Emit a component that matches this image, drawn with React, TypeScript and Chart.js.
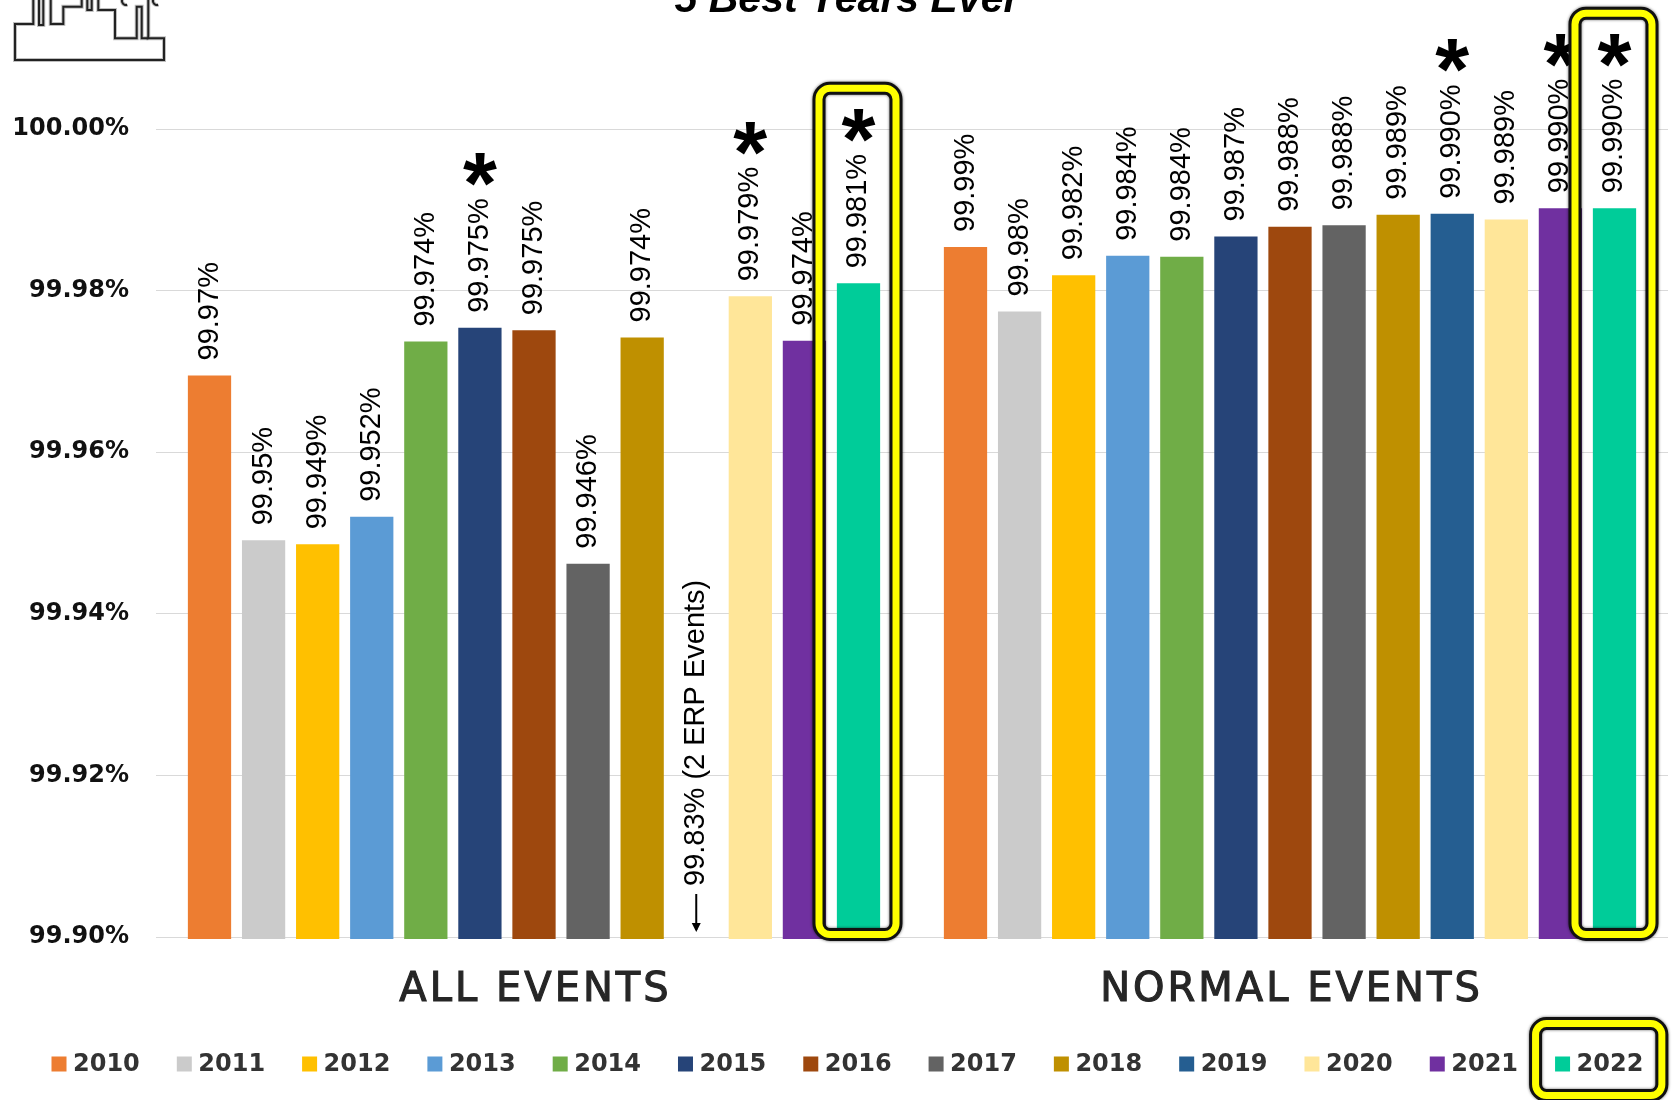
import React, { useEffect, useRef } from 'react';
import { Chart, registerables } from 'chart.js';

Chart.register(...registerables);

const chartTitle = '5 Best Years Ever';
const categories = ['ALL EVENTS', 'NORMAL EVENTS'];
const years = ['2010', '2011', '2012', '2013', '2014', '2015', '2016', '2017', '2018', '2019', '2020', '2021', '2022'];
const allEventsValues = [99.9695, 99.9491, 99.9486, 99.952, 99.9737, 99.9754, 99.9751, 99.9462, 99.9742, 99.83, 99.9793, 99.9738, 99.9809];
const normalEventsValues = [99.9854, 99.9774, 99.9819, 99.9843, 99.9842, 99.9867, 99.9879, 99.9881, 99.9894, 99.9895, 99.9888, 99.9902, 99.9902];
const allEventsLabels = ['99.97%', '99.95%', '99.949%', '99.952%', '99.974%', '99.975%', '99.975%', '99.946%', '99.974%', '99.83% (2 ERP Events)', '99.979%', '99.974%', '99.981%'];
const normalEventsLabels = ['99.99%', '99.98%', '99.982%', '99.984%', '99.984%', '99.987%', '99.988%', '99.988%', '99.989%', '99.990%', '99.989%', '99.990%', '99.990%'];
const yearColors = ['#ED7D31', '#CBCBCB', '#FFC000', '#5B9BD5', '#70AD47', '#264478', '#9E480E', '#636363', '#BF9000', '#255E91', '#FFE699', '#7030A0', '#00CC99'];
const starredAllEvents = ['2015', '2020', '2022'];
const starredNormalEvents = ['2019', '2021', '2022'];
const highlightedYear = '2022';
const yMin = 99.9;
const yMax = 100;
const yStep = 0.02;

const LABEL_FONT = '29px "Liberation Sans", Arial, sans-serif';
const STAR_FAMILY = '"Liberation Sans", Arial, sans-serif';

function drawHighlight(ctx: CanvasRenderingContext2D, left: number, top: number, right: number, bottom: number) {
  const inset = 6.5;
  ctx.save();
  ctx.beginPath();
  ctx.roundRect(left + inset, top + inset, right - left - 2 * inset, bottom - top - 2 * inset, 11);
  ctx.shadowColor = 'rgba(0,0,0,0.6)';
  ctx.shadowBlur = 3;
  ctx.strokeStyle = '#111';
  ctx.lineWidth = 13;
  ctx.stroke();
  ctx.shadowBlur = 0;
  ctx.strokeStyle = '#FFFF00';
  ctx.lineWidth = 7;
  ctx.stroke();
  ctx.restore();
}

function drawLogo(ctx: CanvasRenderingContext2D) {
  const paths: number[][][] = [
    [[148.3, -2], [148.3, 38.3], [164, 38.3], [164, 60], [15, 60], [15, 24], [33.3, 24], [33.3, -2]],
    [[50.7, -2], [50.7, 24], [63.3, 24], [63.3, 6.7], [81.7, 6.7], [81.7, -2]],
    [[98.3, -2], [98.3, 10], [115, 10], [115, 38.3], [136.7, 38.3], [136.7, 6.7], [141.7, 6.7], [141.7, 38.3], [148.3, 38.3]],
    [[39, -2], [39, 25], [43.3, 25], [43.3, -2]],
    [[87.3, -2], [87.3, 10], [91.7, 10], [91.7, -2]],
  ];
  ctx.save();
  ctx.lineJoin = 'miter';
  for (const pass of [{ c: 'rgba(0,0,0,0.25)', w: 4 }, { c: '#222', w: 2 }]) {
    ctx.strokeStyle = pass.c;
    ctx.lineWidth = pass.w;
    for (const p of paths) {
      ctx.beginPath();
      p.forEach(([x, y], i) => (i === 0 ? ctx.moveTo(x, y) : ctx.lineTo(x, y)));
      ctx.stroke();
    }
    ctx.beginPath();
    ctx.arc(126, 1, 4, Math.PI * 0.4, Math.PI * 1.3);
    ctx.stroke();
    ctx.beginPath();
    ctx.arc(157, 1, 4, Math.PI * 0.4, Math.PI * 1.3);
    ctx.stroke();
  }
  ctx.restore();
}

const overlayPlugin = {
  id: 'overlay',
  afterDraw(chart: any) {
    const ctx: CanvasRenderingContext2D = chart.ctx;
    const area = chart.chartArea;
    const yScale = chart.scales.y;
    const xScale = chart.scales.x;
    const labelSets = [allEventsLabels, normalEventsLabels];
    const starSets = [starredAllEvents, starredNormalEvents];
    const tops: Record<string, number> = {};

    ctx.save();
    ctx.textAlign = 'left';
    ctx.textBaseline = 'alphabetic';
    ctx.font = `bold 100px ${STAR_FAMILY}`;
    const m100 = ctx.measureText('*');
    const starSize = (100 * 34) / (m100.actualBoundingBoxLeft + m100.actualBoundingBoxRight);

    chart.data.datasets.forEach((ds: any, d: number) => {
      const meta = chart.getDatasetMeta(d);
      meta.data.forEach((el: any, i: number) => {
        const v = ds.data[i];
        let text = labelSets[i][d];
        let yStart: number;
        let below = false;
        if (v < yScale.min) {
          below = true;
          yStart = area.bottom - 5;
        } else {
          yStart = el.y - 15;
        }
        ctx.font = LABEL_FONT;
        ctx.fillStyle = '#000';
        ctx.save();
        ctx.translate(el.x, yStart);
        ctx.rotate(-Math.PI / 2);
        ctx.textAlign = 'left';
        ctx.textBaseline = 'middle';
        let offset = 0;
        if (below) {
          // long arrow pointing down to the (clipped) bar
          ctx.strokeStyle = '#000';
          ctx.lineWidth = 2;
          ctx.beginPath();
          ctx.moveTo(38, 0);
          ctx.lineTo(2, 0);
          ctx.stroke();
          ctx.beginPath();
          ctx.moveTo(0, 0);
          ctx.lineTo(9, -4.5);
          ctx.lineTo(9, 4.5);
          ctx.closePath();
          ctx.fill();
          offset = 46;
        }
        ctx.fillText(text, offset, 0);
        const tw = ctx.measureText(text).width + offset;
        ctx.restore();
        let top = yStart - tw;
        if (starSets[i].includes(years[d])) {
          ctx.font = `bold ${starSize}px ${STAR_FAMILY}`;
          ctx.textAlign = 'left';
          ctx.textBaseline = 'alphabetic';
          const sm = ctx.measureText('*');
          const bottom = top - 12;
          const dx = el.x - (sm.actualBoundingBoxRight - sm.actualBoundingBoxLeft) / 2;
          const dy = bottom - sm.actualBoundingBoxDescent;
          ctx.fillText('*', dx, dy);
          top = bottom - (sm.actualBoundingBoxAscent + sm.actualBoundingBoxDescent);
        }
        tops[`${d}-${i}`] = top;
      });
    });

    // highlight boxes around the highlighted year's bars
    const hd = years.indexOf(highlightedYear);
    const hmeta = chart.getDatasetMeta(hd);
    hmeta.data.forEach((el: any, i: number) => {
      const t = tops[`${hd}-${i}`] - 27;
      drawHighlight(ctx, el.x - 46, t, el.x + 44, area.bottom + 4);
    });

    // category labels
    ctx.save();
    ctx.fillStyle = '#262626';
    ctx.strokeStyle = '#262626';
    ctx.lineWidth = 1.1;
    ctx.font = '40px "DejaVu Sans", sans-serif';
    (ctx as any).letterSpacing = '3px';
    ctx.textAlign = 'center';
    ctx.textBaseline = 'middle';
    categories.forEach((c, i) => {
      const cx = xScale.getPixelForValue(i) + 1.5;
      ctx.fillText(c, cx, area.bottom + 54);
      ctx.strokeText(c, cx, area.bottom + 54);
    });
    ctx.restore();

    // legend
    const legendY = area.bottom + 127;
    const boxSize = 15;
    let lx = 51.5;
    ctx.font = 'bold 24px "DejaVu Sans", sans-serif';
    ctx.textAlign = 'left';
    ctx.textBaseline = 'middle';
    chart.data.datasets.forEach((ds: any) => {
      const tw = ctx.measureText(ds.label).width;
      ctx.fillStyle = ds.backgroundColor;
      ctx.fillRect(lx, legendY - boxSize / 2, boxSize, boxSize);
      ctx.fillStyle = '#333';
      ctx.fillText(ds.label, lx + boxSize + 6.5, legendY + 1);
      if (ds.label === highlightedYear) {
        drawHighlight(ctx, lx - 26, legendY - 47, lx + boxSize + 6.5 + tw + 25, legendY + 38);
      }
      lx += boxSize + 6.5 + tw + 37;
    });

    // title
    ctx.fillStyle = '#000';
    ctx.font = 'italic bold 41px "Liberation Sans", Arial, sans-serif';
    ctx.textAlign = 'center';
    ctx.textBaseline = 'alphabetic';
    ctx.fillText(chartTitle, 847, 12);

    drawLogo(ctx);
    ctx.restore();
  },
};

export default function App() {
  const canvasRef = useRef<HTMLCanvasElement | null>(null);

  useEffect(() => {
    if (!canvasRef.current) return;
    const chart = new Chart(canvasRef.current, {
      type: 'bar',
      data: {
        labels: categories,
        datasets: years.map((yr, d) => ({
          label: yr,
          data: [allEventsValues[d], normalEventsValues[d]],
          backgroundColor: yearColors[d],
          borderWidth: 0,
          categoryPercentage: 0.93,
          barPercentage: 0.8,
          clip: { left: false, top: false, right: false, bottom: 2 } as any,
        })),
      },
      options: {
        responsive: true,
        maintainAspectRatio: false,
        animation: false,
        layout: { padding: { top: 129, bottom: 163, left: 0, right: 5 } },
        plugins: {
          legend: { display: false },
          title: { display: false },
          tooltip: { enabled: false },
        },
        scales: {
          x: {
            display: false,
            grid: { display: false },
          },
          y: {
            min: yMin,
            max: yMax,
            ticks: {
              stepSize: yStep,
              padding: 27,
              color: '#111',
              font: { family: '"DejaVu Sans", sans-serif', size: 24, weight: 'bold' },
              callback: (v: any) => Number(v).toFixed(2) + '%',
            },
            grid: { color: '#d9d9d9', drawTicks: false, lineWidth: 1 },
            border: { display: false },
            afterFit: (s: any) => {
              s.width = 156;
            },
          },
        },
      },
      plugins: [overlayPlugin],
    });
    return () => chart.destroy();
  }, []);

  return (
    <div style={{ position: 'fixed', left: 0, top: 0, width: '1673px', height: '1100px', background: '#fff' }}>
      <canvas ref={canvasRef} />
    </div>
  );
}
